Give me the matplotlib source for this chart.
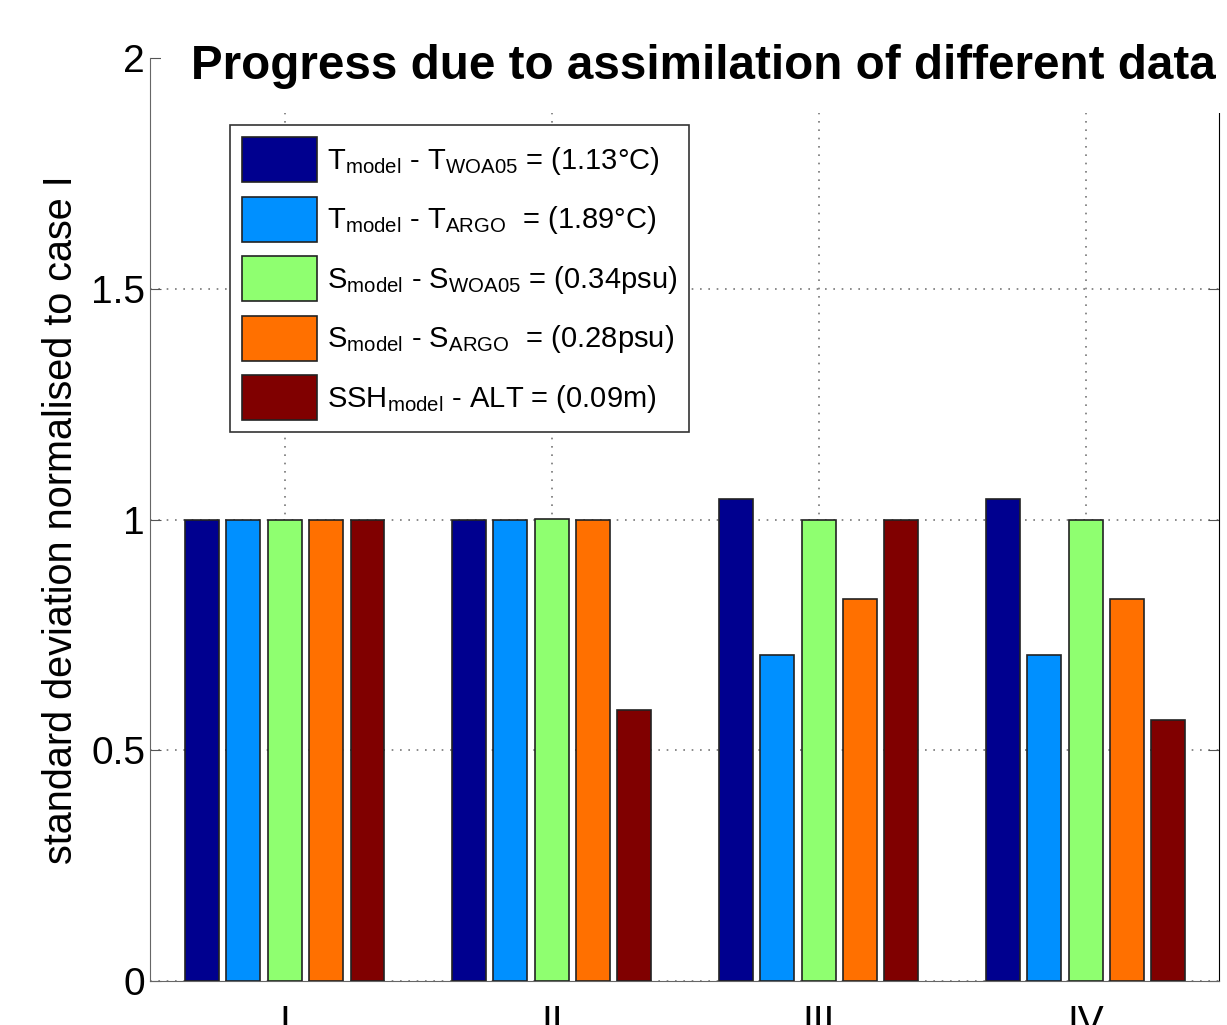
import matplotlib
matplotlib.use('Agg')
import matplotlib.pyplot as plt
import numpy as np
from matplotlib.patches import Rectangle

plt.rcParams['font.family'] = ['Liberation Sans', 'DejaVu Sans']
plt.rcParams['mathtext.fontset'] = 'custom'
plt.rcParams['mathtext.rm'] = 'Liberation Sans'
plt.rcParams['mathtext.it'] = 'Liberation Sans'

cases = ['I', 'II', 'III', 'IV']
t_woa = [1.0, 1.0, 1.044, 1.044]
t_argo = [1.0, 1.0, 0.706, 0.706]
s_woa = [1.0, 1.002, 1.0, 1.0]
s_argo = [1.0, 1.0, 0.828, 0.828]
ssh_alt = [1.0, 0.588, 1.0, 0.566]

labels = [r'T$_{\rm model}$ - T$_{\rm WOA05}$ = (1.13°C)',
          r'T$_{\rm model}$ - T$_{\rm ARGO}$  = (1.89°C)',
          r'S$_{\rm model}$ - S$_{\rm WOA05}$ = (0.34psu)',
          r'S$_{\rm model}$ - S$_{\rm ARGO}$  = (0.28psu)',
          r'SSH$_{\rm model}$ - ALT = (0.09m)']
colors = ['#00008f', '#0090ff', '#8fff70', '#ff7000', '#800000']

series = [t_woa, t_argo, s_woa, s_argo, ssh_alt]
x = np.arange(1, len(cases) + 1)

fig = plt.figure(figsize=(12.27, 10.25), dpi=100)
ax = fig.add_axes([0.1222, 0.0429, 0.8713, 0.9005])

w = 0.127
step = 0.155
for i, (vals, c, lab) in enumerate(zip(series, colors, labels)):
    ax.bar(x + (i - 2) * step, vals, width=w, color=c, edgecolor='#222222',
           linewidth=1.2, label=lab, zorder=3)

ax.set_xlim(0.495, 4.5)
ax.set_ylim(0, 2)
ax.set_xticks(x)
ax.set_xticklabels(cases)
ax.set_yticks([0, 0.5, 1, 1.5, 2])
ax.set_yticklabels(['0', '0.5', '1', '1.5', '2'])
ax.tick_params(axis='both', direction='in', length=8, labelsize=28, right=True,
               color='#555555')
ax.tick_params(axis='x', pad=17)
ax.grid(True, linestyle=(0, (1, 4)), color='#777777', linewidth=1.2, zorder=0)

ax.spines['top'].set_visible(False)
ax.spines['left'].set_color('#666666')
ax.spines['bottom'].set_color('#666666')
ax.spines['right'].set_bounds(0, 1.882)

# white area behind the title, as in the original figure
ax.add_patch(Rectangle((0.01, 0.94), 1.0, 0.07, transform=ax.transAxes,
                       facecolor='white', edgecolor='none', zorder=4, clip_on=False))

ax.set_ylabel('standard deviation normalised to case I', fontsize=28.5, labelpad=8)
fig.text(0.5735, 0.935, 'Progress due to assimilation of different data',
         fontsize=34.3, fontweight='bold', ha='center', va='center', zorder=10)

leg = ax.legend(loc='upper left', bbox_to_anchor=(0.0748, 0.9274), fontsize=21,
                handlelength=2.57, handleheight=1.99, labelspacing=0.5,
                handletextpad=0.33, borderpad=0.42, borderaxespad=0,
                fancybox=False, edgecolor='#333333', framealpha=1)
leg.get_frame().set_linewidth(1.2)
leg.set_zorder(5)

plt.savefig('out.png', dpi=100)
